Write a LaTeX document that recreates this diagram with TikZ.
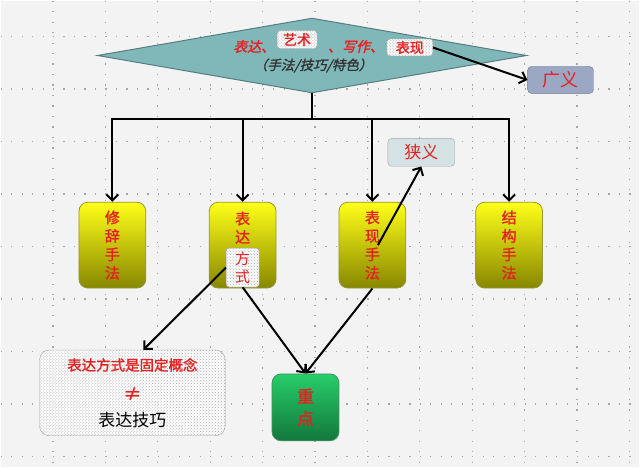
\documentclass[tikz,border=0pt]{standalone}
\usepackage{fontspec}
\setmainfont{Noto Sans CJK SC}
\newfontfamily\slb{Noto Sans CJK SC}[FakeSlant=0.25,FakeBold=1.6]
\newfontfamily\fb{Noto Sans CJK SC}[FakeBold=1.6]
\usetikzlibrary{shapes.geometric,patterns,arrows.meta}

\definecolor{tred}{RGB}{228,32,32}
\definecolor{bgc}{RGB}{243,243,243}
\definecolor{diamfill}{RGB}{128,184,186}
\definecolor{diamedge}{RGB}{85,125,130}
\definecolor{ytop}{RGB}{255,255,25}
\definecolor{ybot}{RGB}{135,135,0}
\definecolor{yedge}{RGB}{150,150,60}
\definecolor{gtop}{RGB}{40,205,105}
\definecolor{gbot}{RGB}{18,120,60}
\definecolor{gyfill}{RGB}{155,168,196}
\definecolor{xyfill}{RGB}{212,226,228}

\newcommand{\fsz}[1]{\fontsize{#1}{#1}\selectfont}

\tikzstyle{grid}=[gray!70,line width=1.2pt,dash pattern=on 1.2pt off 9.3pt]
\tikzstyle{diam}=[diamond,draw=diamedge,fill=diamfill,line width=1pt,aspect=5.7,minimum width=430pt,minimum height=75pt,inner sep=0pt]
\tikzstyle{hbox}=[draw=gray!75,rounded corners=3pt,preaction={fill=white},pattern=crosshatch dots,pattern color=gray!65,inner sep=1pt,text=tred]
\tikzstyle{ybox}=[draw=yedge,line width=0.8pt,rounded corners=9pt,top color=ytop,bottom color=ybot,minimum width=67pt,minimum height=86pt,align=center,text=tred,font=\fb\fontsize{15}{18.5}\selectfont]
\tikzstyle{ed}=[-{Straight Barb[length=6pt,width=12pt]},line width=2pt]

\begin{document}
\begin{tikzpicture}[x=1pt,y=-1pt]
  \fill[bgc] (0,0) rectangle (640,467);
  \foreach \i in {1,...,12} \draw[grid] (52.5*\i,0) -- (52.5*\i,467);
  \foreach \j in {0,...,8} \draw[grid] (0,36+52.6*\j) -- (640,36+52.6*\j);
  \useasboundingbox (0,0) rectangle (640,467);

  \node[diam] (d) at (312,55) {};
  \node[text=tred,font=\slb\fsz{14}] (bd1) at (254,46) {表达、};
  \node[hbox,font=\fb\fsz{14},minimum width=40pt,minimum height=18pt] (ysh) at (297,39) {艺术};
  \node[text=tred,font=\slb\fsz{14}] (xz) at (356,46) {、写作、};
  \node[hbox,font=\fb\fsz{14},minimum width=46pt,minimum height=17pt] (bxn) at (410,47) {表现};
  \node[text=black!80,font=\slb\fsz{13.5}] (sf) at (313,65) {（手法/技巧/特色）};

  \node[draw=gyfill!70!black,fill=gyfill,rounded corners=4pt,minimum width=66pt,minimum height=27pt,text=tred,font=\fsz{18}] (gy) at (561,79.5) {广义};
  \node[draw=gray!70,fill=xyfill,rounded corners=4pt,minimum width=67pt,minimum height=28pt,text=tred,font=\fsz{17}] (xy) at (421.5,152) {狭义};

  \node[ybox] (xc) at (112,245) {修\\辞\\手\\法};
  \node[ybox] (bd) at (242.5,245) {};
  \node[text=tred,align=center,font=\fb\fontsize{15}{18.5}\selectfont] (bdt) at (242.5,227.5) {表\\达};
  \node[hbox,align=center,minimum width=33pt,minimum height=39pt,inner sep=0pt,font=\fontsize{15}{18}\selectfont] (fs) at (242.5,267.5) {方\\式};
  \node[ybox] (bx) at (372.5,245) {表\\现\\手\\法};
  \node[ybox] (jg) at (509.5,245) {结\\构\\手\\法};

  \node[hbox,rounded corners=10pt,minimum width=186pt,minimum height=86pt] (gk) at (132,393) {};
  \node[text=tred,font=\fb\fsz{14.5}] (gk1) at (132,365) {表达方式是固定概念};
  \node[text=tred,font=\fb\fsz{18}] (ne) at (132,394) {≠};
  \node[font=\fsz{17}] (jq) at (132,420) {表达技巧};

  \node[draw=gbot!80,line width=0.8pt,rounded corners=9pt,top color=gtop,bottom color=gbot,minimum width=67pt,minimum height=67pt,align=center,text=tred,font=\fb\fontsize{17}{22}\selectfont] (zd) at (305.5,407.5) {重\\点};

  \coordinate (j) at (312,119);
  \coordinate (xm) at (378,245);

  \draw[line width=2pt] (d.south) -- (j);
  \draw[ed] (j) -| (xc.north);
  \draw[ed] (j) -| (jg.north);
  \path (bd |- j) edge[ed] (bd.north);
  \path (bx |- j) edge[ed] (bx.north);

  \path (bxn.east) edge[ed] (gy.west);
  \path (xm) edge[ed] (xy.south);
  \path (fs.west) edge[ed] ([xshift=11pt]gk.north);
  \path (fs.south) edge[ed] (zd.north);
  \path (bx.south) edge[ed] (zd.north);
\end{tikzpicture}
\end{document}
